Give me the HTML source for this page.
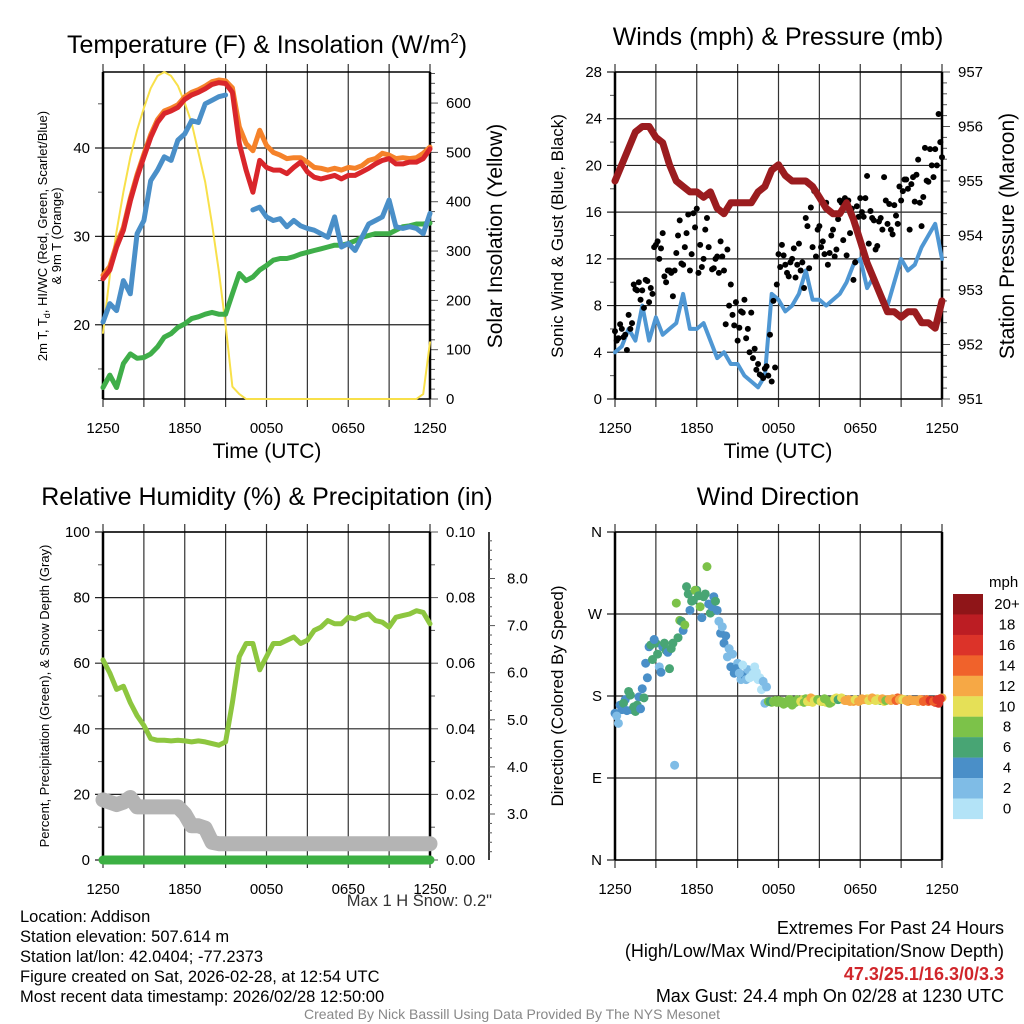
<!DOCTYPE html>
<html><head><meta charset="utf-8"><style>
html,body{margin:0;padding:0;background:#fff;}
svg{display:block;font-family:"Liberation Sans",sans-serif;}
</style></head><body>
<svg id="c" width="1024" height="1024" viewBox="0 0 1024 1024" xmlns="http://www.w3.org/2000/svg">
<text x="267" y="53" font-size="25" text-anchor="middle">Temperature (F) &amp; Insolation (W/m<tspan font-size="15" dy="-10">2</tspan><tspan dy="10">)</tspan></text>
<text x="778" y="45" font-size="25" text-anchor="middle">Winds (mph) &amp; Pressure (mb)</text>
<text x="267" y="505" font-size="25" text-anchor="middle">Relative Humidity (%) &amp; Precipitation (in)</text>
<text x="778" y="505" font-size="25" text-anchor="middle">Wind Direction</text>
<text x="267" y="458" font-size="21" text-anchor="middle">Time (UTC)</text>
<text x="778" y="458" font-size="21" text-anchor="middle">Time (UTC)</text>
<text transform="translate(47,236) rotate(-90)" font-size="13" text-anchor="middle">2m T, T<tspan font-size="9" dy="3">d</tspan><tspan dy="-3">, HI/WC (Red, Green, Scarlet/Blue)</tspan></text>
<text transform="translate(61,236) rotate(-90)" font-size="13" text-anchor="middle">&amp; 9m T (Orange)</text>
<text transform="translate(502,236) rotate(-90)" font-size="21" text-anchor="middle">Solar Insolation (Yellow)</text>
<text transform="translate(563,236) rotate(-90)" font-size="17" text-anchor="middle">Sonic Wind &amp; Gust (Blue, Black)</text>
<text transform="translate(1014,236) rotate(-90)" font-size="21" text-anchor="middle">Station Pressure (Maroon)</text>
<text transform="translate(49,696) rotate(-90)" font-size="13" text-anchor="middle">Percent, Precipitation (Green), &amp; Snow Depth (Gray)</text>
<text transform="translate(563,696) rotate(-90)" font-size="17" text-anchor="middle">Direction (Colored By Speed)</text>
<text x="492" y="906" font-size="16.5" fill="#333" text-anchor="end">Max 1 H Snow: 0.2"</text>
<g font-size="16.5">
<text x="20" y="922">Location: Addison</text>
<text x="20" y="942">Station elevation: 507.614 m</text>
<text x="20" y="962">Station lat/lon: 42.0404; -77.2373</text>
<text x="20" y="982">Figure created on Sat, 2026-02-28, at 12:54 UTC</text>
<text x="20" y="1002">Most recent data timestamp: 2026/02/28 12:50:00</text>
</g>
<g font-size="18" text-anchor="end">
<text x="1004" y="934">Extremes For Past 24 Hours</text>
<text x="1004" y="957">(High/Low/Max Wind/Precipitation/Snow Depth)</text>
<text x="1004" y="980" fill="#d0262b" font-weight="bold">47.3/25.1/16.3/0/3.3</text>
<text x="1004" y="1002">Max Gust: 24.4 mph On 02/28 at 1230 UTC</text>
</g>
<text x="512" y="1019" font-size="14" fill="#888" text-anchor="middle">Created By Nick Bassill Using Data Provided By The NYS Mesonet</text>
</svg>
<script>
// ---- data (half-hourly, hours 0..24 from 1250 UTC) ----
const timeLabels = ["1250","1850","0050","0650","1250"];
const tempRed = [25.2,26.2,28.8,30.7,34,36.7,39,41.2,42.9,43.9,44.2,44.6,45.5,46,46.3,46.7,47.2,47.4,47.3,46.3,40.5,37.5,35,38.6,37.8,37.5,37.5,37.1,37.8,38.4,37.3,36.7,36.5,36.7,36.9,36.5,36.9,36.9,37.3,37.7,38.2,38.6,38.8,38.2,38.2,38.4,38.4,38.8,39.9];
const temp9m = [25.6,26.6,29.1,31,34.3,37,39.3,41.5,43.2,44.2,44.5,44.9,45.8,46.3,46.6,47,47.5,47.7,47.6,46.8,42.4,40.5,39.7,42,40.3,39.5,39.2,38.8,38.9,38.9,38.4,37.8,37.7,37.5,37.7,37.5,37.8,37.7,38,38.6,38.8,39.4,39.2,38.8,38.9,38.8,38.9,39.4,40.1];
const windChill = [20.3,22.4,21.6,25,23.5,30.3,31.8,36.3,37.5,39,38.6,40.9,41.6,43.1,42.9,45,45.4,45.8,46,null,null,null,33,33.3,32.2,31.8,32,31.1,31.8,31.2,30.9,30.7,30.3,29.9,32.2,28.8,29.2,28.4,29.9,31.4,31.8,32.2,34.1,31.1,30.9,31.1,30.9,30.3,32.6];
const dewpoint = [12.9,14.3,12.9,15.6,16.7,16.2,16.3,16.7,17.5,18.6,19,19.7,20.1,20.7,20.9,21.2,21.4,21.2,21.2,23.5,25.8,25,25.4,26.2,26.7,27.3,27.5,27.5,27.7,28,28.2,28.4,28.6,28.8,29,29,29.2,29.5,29.9,30.1,30.3,30.3,30.3,30.7,31.1,31.2,31.4,31.4,31.5];
const insolation = [134,250,340,420,490,545,590,630,655,663,655,635,600,560,500,440,355,260,150,25,10,0,0,0,0,0,0,0,0,0,0,0,0,0,0,0,0,0,0,0,0,0,0,0,0,0,0,10,115];
const windSpeed = [4,4.5,6,5,8,5,7,5.5,6,6.5,9,6,6,6.5,5,3.5,4,3,3,2,1.5,1,2,9,8.5,7.5,8,9,11,8.5,8.5,8,8.5,9,10,11.5,12,9.5,10.5,9,8,10,12,11,11.5,13,14,15,12];
const pressure = [955.0,955.3,955.6,955.9,956.0,956.0,955.8,955.7,955.3,955.0,954.9,954.8,954.8,954.7,954.8,954.5,954.4,954.6,954.6,954.6,954.6,954.8,954.9,955.2,955.3,955.1,955.0,955.0,955.0,954.9,954.7,954.5,954.4,954.4,954.6,954.3,953.9,953.5,953.2,952.9,952.6,952.6,952.5,952.6,952.6,952.4,952.4,952.3,952.8];
const rh = [61,57,52,53,48,44,41,37,36.5,36.5,36.3,36.5,36.3,36,36.3,36,35.5,35,36,48,62,66,66,58,62,66,66,67,68,66,67,70,71,73,72,72,74,73.5,74.5,75,73,72.5,71,74,74.5,75,76,75.5,72];
const snowDepth = [3.3,3.25,3.2,3.25,3.35,3.15,3.15,3.15,3.15,3.15,3.15,3.15,3.0,2.75,2.75,2.7,2.4,2.37,2.37,2.37,2.37,2.37,2.37,2.37,2.37,2.37,2.37,2.37,2.37,2.37,2.37,2.37,2.37,2.37,2.37,2.37,2.37,2.37,2.37,2.37,2.37,2.37,2.37,2.37,2.37,2.37,2.37,2.37,2.37];
const precip = [0,0,0,0,0,0,0,0,0,0,0,0,0,0,0,0,0,0,0,0,0,0,0,0,0,0,0,0,0,0,0,0,0,0,0,0,0,0,0,0,0,0,0,0,0,0,0,0,0];
// gusts, 15-min steps (A) and offset by 7.5 min (B)
const gustA = [5.8,5.2,6.0,5.5,7.2,6.5,9.4,10.0,9.3,10.2,8.3,9.0,13.2,12.0,14.2,10.0,11.0,8.8,12.5,15.3,11.5,14.2,11.0,15.9,16.3,13.2,12.0,15.5,17.4,11.2,12.2,13.5,11.0,12.8,9.8,6.3,5.0,7.5,8.5,6.0,7.4,4.3,3.0,2.0,2.6,2.0,1.5,2.7,12.4,13.2,11.5,10.5,12.0,10.4,13.3,11.7,15.5,11.2,13.0,12.2,14.8,13.5,16.8,12.5,14.5,12.8,17.0,13.6,12.3,14.2,10.2,16.5,17.2,15.6,19.1,16.1,15.3,13.1,15.5,19.0,15.0,14.5,16.6,15.0,17.0,18.8,18.0,18.4,16.9,20.5,14.8,21.5,18.6,20.0,21.4,24.4,20.7];
const gustB = [5.0,6.4,5.3,4.2,6.0,9.8,9.3,8.5,7.8,10.1,9.5,13.0,13.5,12.9,10.5,11.0,10.8,11.0,14.0,11.6,13.0,15.8,12.4,14.7,10.8,11.3,14.5,13.0,11.1,12.0,10.8,12.2,6.4,8.0,7.2,8.3,6.1,7.4,5.2,4.0,3.5,2.5,2.1,1.8,2.8,5.5,8.4,9.8,11.3,12.3,10.8,11.7,12.9,11.5,11.0,9.5,14.8,16.4,17.8,14.5,13.0,12.4,11.5,14.0,12.2,15.4,16.8,17.2,17.0,16.3,11.7,15.6,16.0,17.2,13.3,15.5,12.8,15.2,14.5,17.0,16.7,14.1,15.7,18.2,17.8,18.8,14.5,19.0,19.2,16.8,17.3,18.7,21.4,19.0,20.0,22.0];
// wind direction (deg) and speed (mph), 15-min steps (A) and offset (B)
const dirA = [161,150,165,176,185,165,163,179,188,216,234,220,238,212,234,230,210,238,282,263,252,300,274,285,296,278,289,322,271,289,274,249,238,223,212,205,216,198,203,209,201,212,198,187,172,174,173,175,175,174,172,176,170,173,175,176,177,174,173,176,175,174,173,172,176,178,177,176,175,174,174,175,175,176,177,176,176,177,175,174,176,175,176,178,177,176,174,175,175,174,176,175,174,175,173,172,178];
const spdA = [4.5,3,5,5,7,4.5,7,5,4.5,5,4.5,6.5,6.5,2.5,4.5,6.5,6.5,7,8.5,8.5,5,7,4.5,6.5,7,8.5,6.5,9,6.5,5,4.5,5,4.5,3,5,4.5,3,3,4,2.5,1.5,1.5,1.8,1.5,2.5,8.5,8.5,9,8.5,9,9,8.5,9,8.5,9,10.5,9,12.5,11,10,9,8.5,10.5,9,6.5,10,11,10.5,12.5,13,12,14.5,10,12.5,11,13,12.5,11,9.5,10.5,12,13,12.5,14.5,12.5,10.5,13,14.5,12,13,14.5,12.5,14,15,16.5,17,12.5];
const dirB = [158,170,172,164,181,168,170,166,178,200,236,242,226,206,238,228,232,104,244,262,258,292,284,296,290,266,292,281,278,284,262,256,246,232,226,210,205,214,198,200,204,206,200,196,190,174,174,173,173,171,174,176,172,176,174,173,174,178,175,176,174,177,175,173,177,176,178,175,176,175,176,174,177,176,175,178,175,176,177,175,176,177,175,176,176,175,176,175,175,176,174,176,175,174,176,177];
const spdB = [2.5,5,6.5,4.5,6.5,7,6.5,4.5,6.5,4.5,6.5,4.5,6.5,5,7,4.5,7,2.5,6.5,7,8.5,7,6.5,8.5,6.5,4.5,7,4.5,4.5,6.5,3,3,4.5,2.5,3,4.5,2.5,1.5,3,1.5,1.5,1.2,1.5,3,2.5,6.5,9,8.5,9,8.5,8,9,9.5,8.5,10.5,9,11,12.5,10,9,10.5,9,8.5,9,10.5,6.5,11,12.5,12.5,12,11,13,12.5,13,11,12,11,10,12.5,9,12.5,12,14.5,13,11,12.5,13,12.5,13,12,14.5,15,16.5,14.5,17,16.5];
const speedBins = ["20+","18","16","14","12","10","8","6","4","2","0"];

// ---- rendering ----
const svg = document.getElementById('c');
const NS = 'http://www.w3.org/2000/svg';
function mk(tag, attrs, parent){const e=document.createElementNS(NS,tag);for(const k in attrs)e.setAttribute(k,attrs[k]);(parent||svg).appendChild(e);return e;}
const binColors = ["#8f1518","#bc1d23","#dc3329","#f0622b","#f6a845","#e5e057","#7cc249","#48a574","#4a8fc8","#7fbce6","#b3e3f7"];
function spdColor(s){const i=Math.min(10,Math.floor(s/2));return binColors[10-i];}

function panel(x0, top, bottom){
  const W=327;
  return {x0, x1:x0+W, top, bottom, X:h=>x0+h/24*W};
}
function yScale(p, lo, hi){return v=>p.bottom-(v-lo)/(hi-lo)*(p.bottom-p.top);}
function frame(p, name){
  const g=mk('g',{});
  
  
  for(let h=0;h<=24;h+=3){
    const l=mk('line',{x1:p.X(h),x2:p.X(h),y1:p.top-8,y2:p.bottom+8,stroke:'#333','stroke-width':1.2},g);
    
    
  }
  mk('line',{x1:p.x0,x2:p.x1,y1:p.top,y2:p.top,stroke:'#000','stroke-width':1.5},g);
  mk('line',{x1:p.x0,x2:p.x1,y1:p.bottom,y2:p.bottom,stroke:'#000','stroke-width':1.5},g);
  mk('line',{x1:p.x0,x2:p.x0,y1:p.top,y2:p.bottom,stroke:'#000','stroke-width':2.5},g);
  mk('line',{x1:p.x1,x2:p.x1,y1:p.top,y2:p.bottom,stroke:'#000','stroke-width':2.5},g);
  timeLabels.forEach((t,i)=>{
    const tx=mk('text',{x:p.X(i*6),y:p.bottom+34,'font-size':15,'text-anchor':'middle'},g);
    
    
    tx.textContent=t;
  });
}
function hgrid(p,y,label){
  mk('line',{x1:p.x0-8,x2:p.x1,y1:y,y2:y,stroke:'#222','stroke-width':1.2});
  if(label!==null){
    const t=mk('text',{x:p.x0-13,y:y+5,'font-size':15,'text-anchor':'end'});
    
    
    t.textContent=label;
  }
}
function tick(x,y,len){mk('line',{x1:x,x2:x+len,y1:y,y2:y,stroke:'#555','stroke-width':1});}
function rlabel(p,y,label){
  const t=mk('text',{x:p.x1+16,y:y+5,'font-size':15,'text-anchor':'start'});
  
  
  t.textContent=label;
}
function linePath(p, Y, arr, stroke, w, name){
  let d='',pen=false;
  arr.forEach((v,i)=>{
    if(v===null){pen=false;return;}
    d+=(pen?'L':'M')+p.X(i*0.5).toFixed(1)+','+Y(v).toFixed(1);pen=true;
  });
  const e=mk('path',{d,fill:'none',stroke,'stroke-width':w,'stroke-linejoin':'round','stroke-linecap':'round'});
  
  
  return e;
}

// Panel 1: temperature
const p1=panel(103,72,399);
const T1=yScale(p1,11.6,48.6), S1=yScale(p1,0,663);
[20,30,40].forEach(v=>hgrid(p1,T1(v),String(v)));
[15,25,35,45].forEach(v=>tick(p1.x0-5,T1(v),5));
for(let v=0;v<=660;v+=20){const m=v%100===0;tick(p1.x1,S1(v),m?8:5);if(m)rlabel(p1,S1(v),String(v));}
frame(p1,'temp');
linePath(p1,S1,insolation,'#f8e04a',2,'insolation-line');
linePath(p1,T1,dewpoint,'#3fae49',5,'dewpoint-line');
linePath(p1,T1,temp9m,'#f5822a',5,'temp-9m-line');
linePath(p1,T1,tempRed,'#d9262b',5,'temp-2m-line');
linePath(p1,T1,windChill,'#4a8fc8',5,'windchill-line');

// Panel 2: wind & pressure
const p2=panel(615,72,399);
const W2=yScale(p2,0,28), P2=yScale(p2,951,957);
for(let v=0;v<=28;v+=4){hgrid(p2,W2(v),String(v));if(v<28)tick(p2.x0-5,W2(v+2),5);}
for(let v=951;v<=957.001;v+=0.2){const r=Math.round(v*10)/10;const m=Math.abs(r-Math.round(r))<0.01;tick(p2.x1,P2(r),m?8:5);if(m)rlabel(p2,P2(r),String(Math.round(r)));}
frame(p2,'wind');
linePath(p2,W2,windSpeed,'#4f97d3',4,'sonic-wind-line');
gustA.forEach((g,i)=>{const c=mk('circle',{cx:p2.X(i/4),cy:W2(g),r:3,fill:'#000'});});
gustB.forEach((g,i)=>{const c=mk('circle',{cx:p2.X((i+0.5)/4),cy:W2(g),r:3,fill:'#000'});});
linePath(p2,P2,pressure,'#9b1c1f',7,'pressure-line');

// Panel 3: RH / precip / snow
const p3=panel(103,532,860);
const R3=yScale(p3,0,100), PR3=yScale(p3,0,0.1);
const SD3=v=>814-(v-3)*47.1;
for(let v=0;v<=100;v+=20){hgrid(p3,R3(v),String(v));if(v<100)tick(p3.x0-5,R3(v+10),5);}
for(let v=0;v<=0.1001;v+=0.01){const r=Math.round(v*100)/100;const m=Math.round(r*100)%2===0;tick(p3.x1,PR3(r),m?8:5);if(m)rlabel(p3,PR3(r),r.toFixed(2));}
mk('line',{x1:489,x2:489,y1:532,y2:860,stroke:'#000','stroke-width':1.5});
for(let k=11;k<=44;k++){const v=k/5;const y=SD3(v);if(y<532||y>860)continue;const m=k%5===0;tick(489,y,m?6:3);
  if(m&&v>=3&&v<=8){const t=mk('text',{x:507,y:y+5,'font-size':15});t.textContent=v.toFixed(1);}}
frame(p3,'rh');
linePath(p3,R3,rh,'#8dc63f',5,'rh-line');
linePath(p3,SD3,snowDepth,'#b4b4b4',15,'snow-depth-line');
linePath(p3,PR3,precip,'#3cb043',9,'precip-line');

// Panel 4: wind direction
const p4=panel(615,532,860);
const D4=yScale(p4,0,360);
["N","E","S","W","N"].forEach((l,i)=>hgrid(p4,D4(i*90),l));
frame(p4,'wdir');
dirA.forEach((d,i)=>{const c=mk('circle',{cx:p4.X(i/4),cy:D4(d),r:4.5,fill:spdColor(spdA[i])});});
dirB.forEach((d,i)=>{const c=mk('circle',{cx:p4.X((i+0.5)/4),cy:D4(d),r:4.5,fill:spdColor(spdB[i])});});
// colorbar
const mph=mk('text',{x:989,y:587,'font-size':15});


mph.textContent='mph';
speedBins.forEach((lab,i)=>{
  const y=594+i*20.45;
  const r=mk('rect',{x:953,y:y,width:30,height:20.6,fill:binColors[i]});
  
  
  const t=mk('text',{x:1007,y:y+15,'font-size':15,'text-anchor':'middle'});
  
  
  t.textContent=lab;
});
</script>
</body></html>
